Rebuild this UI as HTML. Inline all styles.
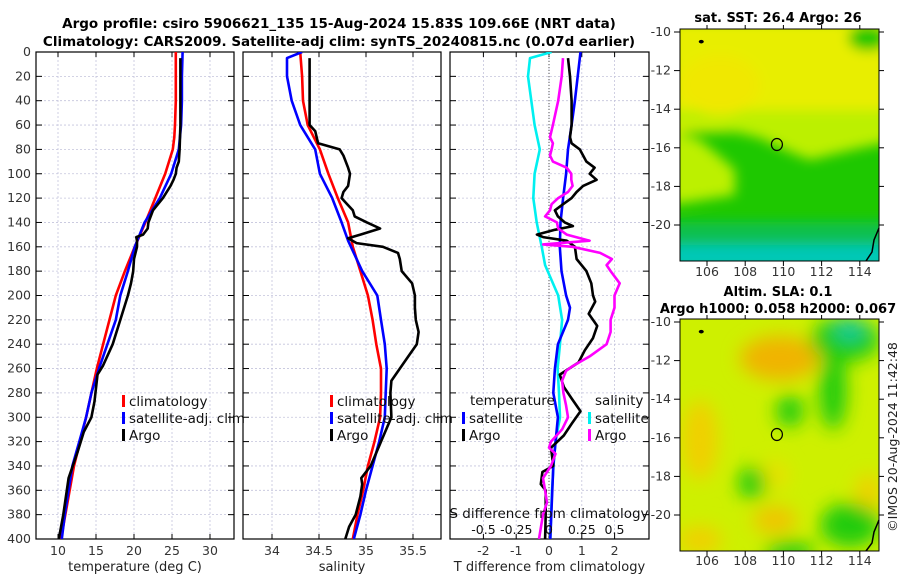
<!DOCTYPE html>
<html><head><meta charset="utf-8">
<style>
html,body{margin:0;padding:0;background:#fff;}
svg{display:block;font-family:"DejaVu Sans","Liberation Sans",sans-serif;}
</style></head>
<body>
<svg id="chart" width="900" height="580" viewBox="0 0 900 580" xmlns="http://www.w3.org/2000/svg">
<defs>
<filter id="blur1" x="-20%" y="-20%" width="140%" height="140%"><feGaussianBlur stdDeviation="9"/></filter>
<filter id="blur2" x="-20%" y="-20%" width="140%" height="140%"><feGaussianBlur stdDeviation="6"/></filter>
<clipPath id="clipMap1"><rect x="680" y="29" width="199" height="232"/></clipPath>
<clipPath id="clipMap2"><rect x="680" y="319" width="199" height="232"/></clipPath>
<clipPath id="clipP1"><rect x="36" y="52" width="198" height="487"/></clipPath>
<clipPath id="clipP2"><rect x="243" y="52" width="198" height="487"/></clipPath>
<clipPath id="clipP3"><rect x="450" y="52" width="199" height="487"/></clipPath>
</defs>
<text x="339" y="28" text-anchor="middle" font-size="13.5" font-weight="bold" fill="#000">Argo profile: csiro 5906621_135 15-Aug-2024 15.83S 109.66E (NRT data)</text>
<text x="339" y="46" text-anchor="middle" font-size="13.5" font-weight="bold" fill="#000">Climatology: CARS2009. Satellite-adj clim: synTS_20240815.nc (0.07d earlier)</text>
</svg>
<script>
// ---- data ----
const depthTicks = [0,20,40,60,80,100,120,140,160,180,200,220,240,260,280,300,320,340,360,380,400];
const tempTicks = [10,15,20,25,30];
const salTicks = [34,34.5,35,35.5];
const salTickLabels = ["34","34.5","35","35.5"];
const tdiffTicks = [-2,-1,0,1,2];
const sdiffTicks = [-0.5,-0.25,0,0.25,0.5];
const sdiffTickLabels = ["-0.5","-0.25","0","0.25","0.5"];

const tempClimDepth = [0,20,40,60,70,80,100,120,140,160,180,200,260,300,340,400];
const tempClimVal = [25.5,25.5,25.5,25.4,25.3,25.1,24.1,22.8,21.5,20.1,18.8,17.6,15.1,13.7,12.1,10.4];
const tempSatDepth = [0,20,40,60,80,100,120,140,160,180,200,220,240,260,280,300,320,340,360,380,400];
const tempSatVal = [26.4,26.3,26.3,26.2,25.9,24.9,23.4,21.4,20.1,19.2,18.2,17.6,16.5,15.4,14.4,13.7,12.8,11.9,11.4,10.9,10.5];
const tempArgoDepth = [5,60,80,90,95,100,105,110,120,130,140,145,150,152,155,160,170,180,190,200,220,240,258,265,287,300,312,328,350,380,400];
const tempArgoVal = [26.1,26.1,26.0,25.9,25.6,25.5,25.2,24.8,23.8,22.5,21.9,21.8,21.2,20.3,20.4,20.4,20.0,19.9,19.6,19.2,18.2,17.2,15.9,15.2,14.8,14.4,13.4,12.6,11.4,10.7,10.1];

const salClimDepth = [0,20,40,60,80,100,120,140,160,180,200,220,240,260,280,300,320,340,360,380,400];
const salClimVal = [34.30,34.32,34.33,34.38,34.51,34.60,34.70,34.81,34.86,34.94,35.02,35.07,35.11,35.16,35.16,35.15,35.09,35.02,34.97,34.91,34.86];
const salSatDepth = [0,5,20,40,60,80,100,120,140,155,180,200,220,240,260,280,300,320,340,360,380,400];
const salSatVal = [34.32,34.16,34.16,34.21,34.30,34.46,34.51,34.64,34.74,34.81,34.96,35.12,35.16,35.20,35.22,35.21,35.20,35.14,35.07,35.00,34.94,34.87];
const salArgoDepth = [5,60,65,75,80,85,95,100,110,115,120,125,130,135,140,145,150,153,157,160,165,170,180,190,200,210,220,230,240,250,260,270,280,300,320,340,350,355,365,380,390,400];
const salArgoVal = [34.40,34.40,34.46,34.49,34.72,34.76,34.81,34.83,34.81,34.76,34.74,34.80,34.86,34.88,35.01,35.15,34.94,34.81,34.90,35.18,35.34,35.36,35.38,35.49,35.52,35.52,35.53,35.56,35.54,35.45,35.36,35.27,35.26,35.27,35.16,35.05,34.95,34.96,34.94,34.89,34.82,34.78];

const tdSatDepth = [0,40,60,80,100,120,140,160,180,200,210,220,240,260,280,300,320,340,360,380,400];
const tdSatVal = [0.96,0.79,0.69,0.58,0.52,0.43,0.35,0.33,0.38,0.52,0.64,0.58,0.27,0.18,0.13,0.27,0.20,0.13,0.10,0.07,0.04];
const tdArgoDepth = [5,20,40,60,70,75,80,90,95,100,105,110,115,120,125,130,135,140,143,146,150,152,155,160,170,180,190,200,205,215,225,235,245,255,265,275,285,295,305,315,325,340,345,355,360,380,400];
const tdArgoVal = [0.58,0.64,0.69,0.69,0.64,0.69,0.94,1.14,1.39,1.24,1.45,1.04,0.84,0.69,0.43,0.18,0.27,0.48,0.73,0.18,-0.37,-0.18,0.54,0.79,0.84,1.14,1.29,1.34,1.41,1.21,1.47,1.34,1.09,0.90,0.33,0.45,0.70,0.96,0.70,0.45,0.06,0.13,-0.20,-0.25,-0.10,-0.10,-0.12];
const sdSatDepth = [0,5,20,60,80,100,120,140,160,175,200,220,240,260,280,300,320,340,360,380,400];
const sdSatVal = [0.02,-0.145,-0.16,-0.11,-0.07,-0.11,-0.12,-0.094,-0.056,-0.03,0.07,0.10,0.084,0.066,0.076,0.084,0.05,0.034,0.023,0.016,0.01];
const sdArgoDepth = [5,20,40,60,70,75,80,85,90,95,100,105,110,115,120,125,130,135,140,145,150,155,158,160,165,170,175,180,190,200,210,220,230,240,250,258,262,270,280,290,300,310,320,325,330,340,350,360,370,380,400];
const sdArgoVal = [0.107,0.097,0.07,0.03,0.008,0.03,0.02,0.008,0.03,0.135,0.17,0.17,0.18,0.145,0.07,0.02,0.008,-0.03,0.06,0.07,0.135,0.31,-0.045,0.18,0.39,0.48,0.44,0.47,0.54,0.50,0.50,0.47,0.47,0.44,0.31,0.18,0.13,0.10,0.11,0.13,0.145,0.10,0.015,0.0,0.05,0.015,-0.046,-0.03,-0.015,-0.046,-0.076];

const mapLonTicks = [106,108,110,112,114];
const mapLatTicks = [-10,-12,-14,-16,-18,-20];
const argoLon = 109.66, argoLat = -15.83;

// ---- helpers ----
const svg = document.getElementById('chart');
const NS = 'http://www.w3.org/2000/svg';
function mk(tag, attrs, parent){ const e=document.createElementNS(NS,tag); for(const k in attrs) e.setAttribute(k,attrs[k]); (parent||svg).appendChild(e); return e; }
const Y0=52, Y1=539;
function yD(d){ return Y0 + d*(Y1-Y0)/400; }
function xT(t){ return 58 + (t-10)*7.6; }
function xS(s){ return 272 + (s-34)*94; }
function xTD(t){ return 549 + t*32.8; }
function xSD(s){ return 549 + s*131; }
function lonX(l){ return 707 + (l-106)*19.1; }
function latY1(l){ return 32 + (-10-l)*19.3; }
function latY2(l){ return 322 + (-10-l)*19.3; }

function panel(x0,x1,name,xticks,xfn,xlabels,xtitle){
  const g = mk('g',{});
  
  
  depthTicks.forEach(d=>{ if(d>0&&d<400){ const l=mk('line',{x1:x0,x2:x1,y1:yD(d),y2:yD(d),stroke:'#c4c4dc','stroke-width':0.8,'stroke-dasharray':'2,2'},g);   }});
  xticks.forEach((v,i)=>{ const x=xfn(v);
    const l=mk('line',{x1:x,x2:x,y1:Y0,y2:Y1,stroke:'#c4c4dc','stroke-width':0.8,'stroke-dasharray':'2,2'},g);
     
    mk('line',{x1:x,x2:x,y1:Y1,y2:Y1-5,stroke:'#000'},g);
    mk('line',{x1:x,x2:x,y1:Y0,y2:Y0+5,stroke:'#000'},g);
    const t=mk('text',{x:x,y:555,'text-anchor':'middle','font-size':12.5,fill:'#333'},g); t.textContent=xlabels[i];
     
  });
  depthTicks.forEach(d=>{ mk('line',{x1:x0,x2:x0+6,y1:yD(d),y2:yD(d),stroke:'#000'},g); mk('line',{x1:x1-6,x2:x1,y1:yD(d),y2:yD(d),stroke:'#000'},g); });
  const f=mk('rect',{x:x0,y:Y0,width:x1-x0,height:Y1-Y0,fill:'none',stroke:'#000','stroke-width':1.2},g);
   
  const tt=mk('text',{x:(x0+x1)/2,y:571,'text-anchor':'middle','font-size':13,fill:'#222'},g); tt.textContent=xtitle;
   
  return g;
}
function series(depths, vals, xfn, color, name, clip){
  let d=''; depths.forEach((dep,i)=>{ d+=(i?'L':'M')+xfn(vals[i]).toFixed(1)+','+yD(dep).toFixed(1); });
  const p=mk('path',{d:d,fill:'none',stroke:color,'stroke-width':2.6,'stroke-linejoin':'round','clip-path':'url(#'+clip+')'});
  
  
}
function legendEntry(x,y,color,label,name){
  const g=mk('g',{});
  
  
  mk('rect',{x:x,y:y-10,width:3,height:12,fill:color},g);
  const t=mk('text',{x:x+7,y:y+1,'font-size':13.5,fill:'#111'},g); t.textContent=label;
}
function txt(x,y,s,size,name,extra){ const t=mk('text',Object.assign({x:x,y:y,'font-size':size,fill:'#222'},extra||{})); t.textContent=s;   return t; }

// y labels
depthTicks.forEach(d=>{ txt(31,yD(d)+4,String(d),12.5,'y-tick-label',{'text-anchor':'end',fill:'#333'}); });

// panel 1
panel(36,234,'temperature-panel',tempTicks,xT,tempTicks.map(String),'temperature (deg C)');
series(tempClimDepth,tempClimVal,xT,'#ff0000','temp-climatology-line','clipP1');
series(tempSatDepth,tempSatVal,xT,'#0000ff','temp-satellite-line','clipP1');
series(tempArgoDepth,tempArgoVal,xT,'#000000','temp-argo-line','clipP1');
legendEntry(122,405,'#ff0000','climatology','legend-climatology');
legendEntry(122,422,'#0000ff','satellite-adj. clim','legend-satellite');
legendEntry(122,439,'#000000','Argo','legend-argo');

// panel 2
panel(243,441,'salinity-panel',salTicks,xS,salTickLabels,'salinity');
series(salClimDepth,salClimVal,xS,'#ff0000','sal-climatology-line','clipP2');
series(salSatDepth,salSatVal,xS,'#0000ff','sal-satellite-line','clipP2');
series(salArgoDepth,salArgoVal,xS,'#000000','sal-argo-line','clipP2');
legendEntry(330,405,'#ff0000','climatology','legend-climatology-2');
legendEntry(330,422,'#0000ff','satellite-adj. clim','legend-satellite-2');
legendEntry(330,439,'#000000','Argo','legend-argo-2');

// panel 3
panel(450,649,'difference-panel',tdiffTicks,xTD,tdiffTicks.map(String),'T difference from climatology');
mk('line',{x1:549,x2:549,y1:Y0,y2:Y1,stroke:'#555','stroke-width':1,'stroke-dasharray':'1,2'});
series(sdSatDepth,sdSatVal,xSD,'#00f0f0','sdiff-satellite-line','clipP3');
series(tdSatDepth,tdSatVal,xTD,'#0000ff','tdiff-satellite-line','clipP3');
series(tdArgoDepth,tdArgoVal,xTD,'#000000','tdiff-argo-line','clipP3');
series(sdArgoDepth,sdArgoVal,xSD,'#ff00ff','sdiff-argo-line','clipP3');
txt(470,405,'temperature',13.5,'legend-title-temperature',{fill:'#111'});
txt(595,405,'salinity',13.5,'legend-title-salinity',{fill:'#111'});
legendEntry(462,422,'#0000ff','satellite','legend-t-satellite');
legendEntry(462,439,'#000000','Argo','legend-t-argo');
legendEntry(588,422,'#00f0f0','satellite','legend-s-satellite');
legendEntry(588,439,'#ff00ff','Argo','legend-s-argo');
txt(549,518,'S difference from climatology',13.5,'s-diff-axis-title',{'text-anchor':'middle',fill:'#111'});
sdiffTicks.forEach((v,i)=>{ txt(xSD(v),534,sdiffTickLabels[i],12.5,'s-diff-tick-label',{'text-anchor':'middle',fill:'#111'}); });

// ---- maps ----
function mapAxes(top,bottom,latY,name,labelY){
  const g=mk('g',{});
  
  
  mk('rect',{x:680,y:top,width:199,height:bottom-top,fill:'none',stroke:'#000','stroke-width':1},g);
  mapLatTicks.forEach(l=>{ const y=latY(l);
    mk('line',{x1:674,x2:680,y1:y,y2:y,stroke:'#000'},g); mk('line',{x1:879,x2:884,y1:y,y2:y,stroke:'#000'},g);
    const t=mk('text',{x:671,y:y+4,'text-anchor':'end','font-size':12.5,fill:'#333'},g); t.textContent=String(l);
  });
  mapLonTicks.forEach(l=>{ const x=lonX(l);
    mk('line',{x1:x,x2:x,y1:bottom,y2:bottom+5,stroke:'#000'},g); mk('line',{x1:x,x2:x,y1:top,y2:top-4,stroke:'#000'},g);
    const t=mk('text',{x:x,y:labelY,'text-anchor':'middle','font-size':12.5,fill:'#333'},g); t.textContent=String(l);
  });
  mk('ellipse',{cx:lonX(argoLon),cy:latY(argoLat),rx:5.5,ry:6,fill:'none',stroke:'#000','stroke-width':1.2},g);
  mk('ellipse',{cx:lonX(105.7),cy:latY(-10.5),rx:2.5,ry:1.8,fill:'#000'},g);
}
// map 1 SST
const m1=mk('g',{'clip-path':'url(#clipMap1)'});


mk('rect',{x:680,y:29,width:199,height:232,fill:'#1ec800'},m1);
const m1b=mk('g',{filter:'url(#blur2)'},m1);
mk('rect',{x:670,y:20,width:220,height:112,fill:'#e8ee00'},m1b);
mk('path',{d:'M670,125 L720,128 L760,138 L790,152 L810,160 L830,155 L860,148 L890,142 L890,110 L670,110 Z',fill:'#bcf000'},m1b);
mk('path',{d:'M670,130 L700,140 L718,155 L735,170 L735,195 L670,205 Z',fill:'#bcf000'},m1b);
mk('ellipse',{cx:720,cy:85,rx:40,ry:30,fill:'#f0e800'},m1b);
mk('rect',{x:670,y:222,width:220,height:45,fill:'#10c050'},m1b);
mk('rect',{x:670,y:245,width:220,height:25,fill:'#00c8b8'},m1b);
mk('ellipse',{cx:868,cy:38,rx:20,ry:13,fill:'#1ec800'},m1b);
mapAxes(29,261,latY1,'sst-map',276);
mk('path',{d:'M879,228 L874,240 L872,252 L866,261',fill:'none',stroke:'#000','stroke-width':1.5});
txt(778,22,'sat. SST: 26.4 Argo: 26',13,'sst-map-title',{'text-anchor':'middle','font-weight':'bold',fill:'#000'});

// map 2 SLA
const m2=mk('g',{'clip-path':'url(#clipMap2)'});


mk('rect',{x:680,y:319,width:199,height:232,fill:'#cef000'},m2);
const m2b=mk('g',{filter:'url(#blur1)'},m2);
mk('ellipse',{cx:780,cy:358,rx:40,ry:22,fill:'#f0b400'},m2b);
mk('ellipse',{cx:700,cy:440,rx:18,ry:40,fill:'#f0d000'},m2b);
mk('ellipse',{cx:775,cy:475,rx:14,ry:14,fill:'#e8e000'},m2b);
mk('ellipse',{cx:775,cy:520,rx:22,ry:14,fill:'#f0c400'},m2b);
mk('ellipse',{cx:700,cy:540,rx:22,ry:14,fill:'#f0d000'},m2b);
mk('ellipse',{cx:868,cy:495,rx:12,ry:22,fill:'#f0d000'},m2b);
mk('ellipse',{cx:790,cy:411,rx:14,ry:16,fill:'#22cc10'},m2b);
mk('ellipse',{cx:833,cy:390,rx:14,ry:40,fill:'#22cc10'},m2b);
mk('ellipse',{cx:845,cy:340,rx:35,ry:22,fill:'#22cc10'},m2b);
mk('ellipse',{cx:850,cy:330,rx:15,ry:10,fill:'#10c8a0'},m2b);
mk('ellipse',{cx:752,cy:483,rx:14,ry:16,fill:'#22cc10'},m2b);
mk('ellipse',{cx:850,cy:525,rx:30,ry:22,fill:'#22cc10'},m2b);
mk('ellipse',{cx:790,cy:551,rx:25,ry:10,fill:'#22cc10'},m2b);
mapAxes(319,551,latY2,'sla-map',565);
mk('path',{d:'M879,520 L874,532 L872,543 L866,551',fill:'none',stroke:'#000','stroke-width':1.5});
txt(778,296,'Altim. SLA: 0.1',13,'sla-map-title',{'text-anchor':'middle','font-weight':'bold',fill:'#000'});
txt(778,313,'Argo h1000: 0.058 h2000: 0.067',13,'sla-map-subtitle',{'text-anchor':'middle','font-weight':'bold',fill:'#000'});
txt(897,437,'©IMOS 20-Aug-2024 11:42:48',12.5,'timestamp-credit',{'text-anchor':'middle',transform:'rotate(-90 897 437)',fill:'#222'});
</script>
</body></html>
